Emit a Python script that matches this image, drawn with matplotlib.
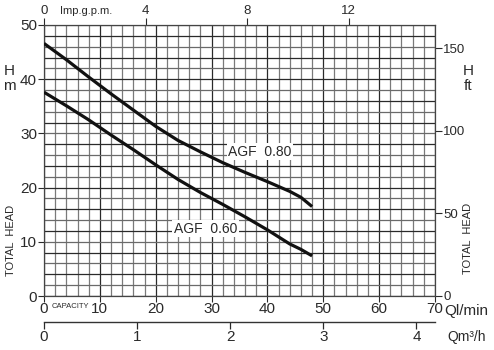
import matplotlib
matplotlib.use("Agg")
import matplotlib.pyplot as plt
import numpy as np

# Data
q_080 = [0, 4, 8, 12, 16, 20, 24, 28, 32, 36, 40, 44, 46, 48]
h_080 = [46.6, 43.6, 40.4, 37.3, 34.3, 31.3, 28.7, 26.6, 24.6, 22.8, 21.1, 19.3, 18.2, 16.5]
q_060 = [0, 4, 8, 12, 16, 20, 24, 28, 32, 36, 40, 44, 46, 48]
h_060 = [37.6, 35.1, 32.5, 29.7, 27.0, 24.2, 21.5, 19.1, 16.9, 14.6, 12.2, 9.6, 8.6, 7.4]
curve_labels = ["AGF  0.80", "AGF  0.60"]
x_ticks = [0, 10, 20, 30, 40, 50, 60, 70]
y_ticks = [0, 10, 20, 30, 40, 50]
gpm_ticks = [0, 4, 8, 12]
ft_ticks = [0, 50, 100, 150]
m3h_ticks = [0, 1, 2, 3, 4]

FONT = ["Liberation Sans", "DejaVu Sans"]
plt.rcParams['font.family'] = FONT
TXT = '#2a2a2a'

fig = plt.figure(figsize=(4.94, 3.5), dpi=100)
L, R, T, B = 44/494, 435/494, 1-25/350, 1-296/350
ax = fig.add_axes([L, B, R-L, T-B])
ax.set_xlim(0, 70)
ax.set_ylim(0, 50)

# grid
for xv in np.arange(0, 71, 2):
    ax.axvline(xv, color='#2a2a2a' if xv % 10 == 0 else '#7a7a7a', lw=0.9, zorder=1)
for yv in np.arange(0, 51, 2):
    ax.axhline(yv, color='#2a2a2a' if yv % 4 == 0 else '#6a6a6a', lw=0.9, zorder=1)
for s in ax.spines.values():
    s.set_color('#444444')
    s.set_linewidth(0.9)

ax.plot(q_080, h_080, color='#111111', lw=2.3, solid_capstyle='butt', zorder=3)
ax.plot(q_060, h_060, color='#111111', lw=2.3, solid_capstyle='butt', zorder=3)

ax.text(38.7, 26.6, curve_labels[0], fontsize=10, ha='center', va='center', color=TXT,
        bbox=dict(facecolor='white', edgecolor='none', pad=1.0), zorder=4)
ax.text(28.9, 12.4, curve_labels[1], fontsize=10, ha='center', va='center', color=TXT,
        bbox=dict(facecolor='white', edgecolor='none', pad=1.0), zorder=4)

ax.set_xticks(x_ticks)
ax.set_yticks(y_ticks)
ax.tick_params(axis='both', labelsize=11, colors=TXT, length=4, width=0.8, pad=1)
ax.tick_params(axis='x', pad=0)

# top axis: Imp g.p.m.
top = ax.secondary_xaxis('top', functions=(lambda q: q/4.546, lambda g: g*4.546))
top.set_xticks(gpm_ticks)
top.tick_params(labelsize=9.5, length=5, width=0.8, pad=1, colors=TXT)
top.spines['top'].set_visible(False)

# right axis: ft
right = ax.secondary_yaxis('right', functions=(lambda m: m/0.3048, lambda f: f*0.3048))
right.set_yticks(ft_ticks)
right.tick_params(labelsize=9.5, length=5, width=0.8, pad=1, colors=TXT)
right.spines['right'].set_visible(False)

# bottom secondary axis: m3/h
bot = ax.secondary_xaxis(-0.096, functions=(lambda q: q/16.6667, lambda m: m*16.6667))
bot.set_xticks(m3h_ticks)
bot.tick_params(labelsize=11, length=5, width=0.9, pad=1, colors=TXT)
bot.spines['bottom'].set_linewidth(1.0)
bot.spines['bottom'].set_color('#333333')

# text annotations
fig.text(86/494, 1-11/350, "Imp.g.p.m.", fontsize=8, ha='center', va='center', color=TXT)
fig.text(9/494, 1-71/350, "H", fontsize=11, ha='center', va='center', color=TXT)
fig.text(9/494, 1-86/350, "m", fontsize=11, ha='center', va='center', color=TXT)
fig.text(468/494, 1-71/350, "H", fontsize=11, ha='center', va='center', color=TXT)
fig.text(468/494, 1-86/350, "ft", fontsize=11, ha='center', va='center', color=TXT)
fig.text(11/494, 1-240/350, "TOTAL  HEAD", fontsize=8, rotation=90, ha='center', va='center', color=TXT)
fig.text(468/494, 1-238/350, "TOTAL  HEAD", fontsize=8, rotation=90, ha='center', va='center', color=TXT)
fig.text(70/494, 1-306/350, "CAPACITY", fontsize=5.5, ha='center', va='center', color=TXT)
fig.text(466/494, 1-311/350, "Ql/min", fontsize=11, ha='center', va='center', color=TXT)
fig.text(467/494, 1-337/350, "Qm³/h", fontsize=10, ha='center', va='center', color=TXT)

fig.savefig("out.png", dpi=100)
